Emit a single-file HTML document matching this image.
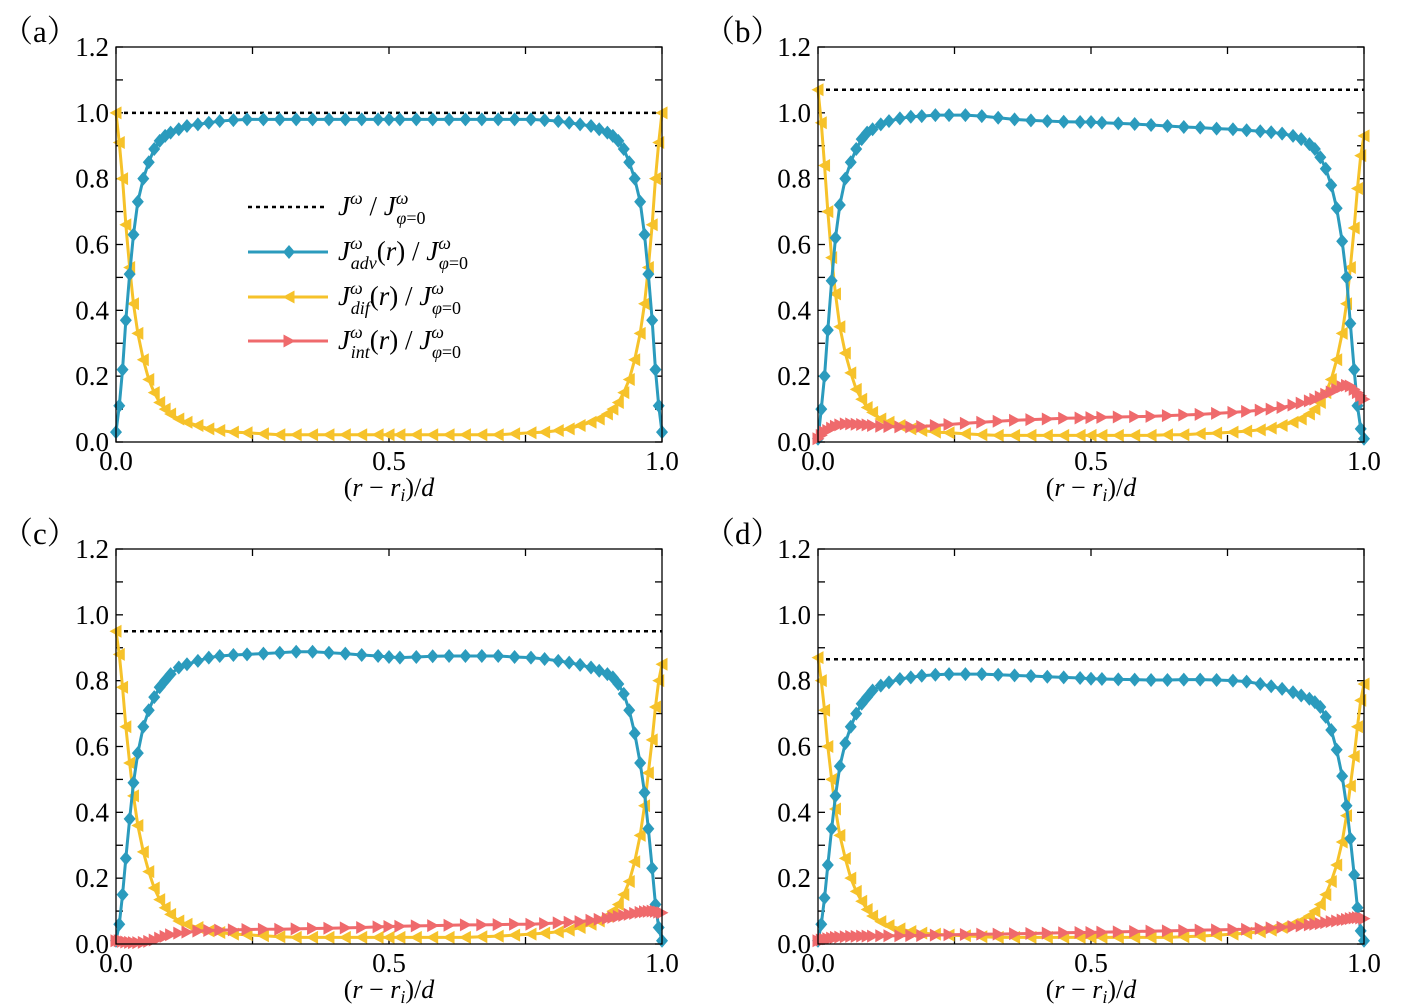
<!DOCTYPE html>
<html><head><meta charset="utf-8">
<style>
body{margin:0;background:#fff;}
svg{display:block;font-family:"Liberation Serif",serif;}
</style></head>
<body>
<svg id="chart" width="1404" height="1007" viewBox="0 0 1404 1007" xmlns="http://www.w3.org/2000/svg"></svg>
<script>
const xGrid = [0,.006,.012,.018,.025,.032,.04,.05,.06,.07,.08,.09,.1,.115,.13,.15,.17,.19,.215,.24,.27,.3,.33,.36,.39,.42,.45,.48,
 .5,
 .52,.55,.58,.61,.64,.67,.7,.73,.76,.785,.81,.83,.85,.87,.885,.9,.91,.92,.93,.94,.95,.96,.968,.975,.982,.988,.994,1];
const yTicks = [0,0.2,0.4,0.6,0.8,1.0,1.2];
const yTickLabels = ["0.0","0.2","0.4","0.6","0.8","1.0","1.2"];
const xTicks = [0,0.5,1.0];
const xTickLabels = ["0.0","0.5","1.0"];
const panelLabels = ["a","b","c","d"];
const totalA = 1.0, totalB = 1.07, totalC = 0.95, totalD = 0.865;

const advA = [.03,.11,.22,.37,.51,.63,.73,.80,.85,.89,.915,.93,.94,.95,.96,.965,.97,.975,.978,.98,.98,.98,.98,.98,.98,.98,.98,.98,
 .98,
 .98,.98,.98,.98,.98,.98,.98,.98,.98,.978,.975,.97,.965,.96,.95,.94,.93,.915,.89,.85,.80,.73,.63,.51,.37,.22,.11,.03];
const difA = [1.0,.91,.80,.66,.53,.42,.33,.25,.19,.15,.12,.10,.085,.07,.06,.05,.04,.035,.03,.028,.025,.022,.022,.022,.022,.022,.022,.022,
 .022,
 .022,.022,.022,.022,.022,.022,.022,.025,.028,.03,.035,.04,.05,.06,.07,.085,.10,.12,.15,.19,.25,.33,.42,.53,.66,.80,.91,1.0];
const intA = null;

const advB = [.01,.10,.20,.34,.49,.62,.72,.80,.85,.89,.92,.94,.95,.965,.975,.983,.988,.99,.993,.993,.993,.99,.985,.98,.977,.975,.973,.972,
 .972,
 .97,.968,.966,.963,.96,.957,.955,.952,.95,.947,.944,.941,.937,.93,.92,.905,.89,.865,.83,.78,.71,.61,.50,.36,.22,.11,.04,.01];
const difB = [1.07,.97,.84,.70,.56,.45,.35,.27,.21,.16,.13,.105,.09,.07,.06,.05,.04,.035,.03,.028,.025,.022,.02,.02,.02,.02,.02,.02,
 .02,
 .02,.02,.02,.02,.022,.022,.025,.027,.03,.033,.037,.042,.05,.06,.07,.085,.10,.12,.15,.19,.25,.33,.42,.53,.65,.77,.87,.93];
const intB = [.01,.02,.03,.035,.042,.048,.052,.055,.055,.054,.053,.052,.05,.048,.047,.046,.046,.047,.05,.053,.057,.06,.063,.066,.068,.07,.072,.073,
 .074,
 .075,.076,.077,.078,.08,.082,.084,.087,.09,.093,.097,.10,.105,.112,.118,.125,.13,.137,.145,.152,.16,.168,.172,.17,.16,.15,.14,.13];

const advC = [.01,.06,.15,.26,.38,.49,.58,.66,.71,.75,.78,.80,.82,.84,.85,.86,.87,.875,.878,.88,.882,.885,.888,.888,.885,.882,.878,.875,
 .872,
 .87,.872,.874,.875,.875,.875,.875,.872,.87,.866,.86,.855,.848,.84,.83,.82,.81,.79,.76,.71,.64,.55,.46,.35,.23,.12,.05,.01];
const difC = [.95,.88,.78,.66,.55,.45,.36,.28,.22,.17,.135,.11,.09,.07,.06,.05,.04,.035,.03,.028,.025,.022,.02,.02,.02,.02,.02,.02,
 .02,
 .02,.02,.02,.02,.02,.022,.024,.027,.03,.033,.037,.042,.05,.06,.07,.085,.10,.12,.15,.19,.25,.33,.42,.52,.62,.72,.80,.85];
const intC = [.01,.01,.008,.006,.005,.004,.004,.005,.008,.012,.018,.023,.028,.033,.036,.039,.041,.042,.043,.044,.045,.045,.046,.047,.048,.049,.05,.052,
 .053,
 .054,.055,.056,.057,.058,.058,.059,.06,.06,.062,.064,.066,.068,.072,.075,.078,.081,.084,.087,.09,.093,.096,.098,.099,.1,.099,.097,.095];

const advD = [.01,.06,.14,.24,.35,.45,.54,.61,.66,.70,.73,.75,.77,.785,.795,.805,.81,.815,.818,.82,.82,.82,.818,.816,.814,.812,.81,.808,
 .806,
 .805,.804,.803,.802,.802,.803,.803,.802,.80,.797,.79,.783,.775,.765,.755,.745,.735,.72,.69,.65,.59,.51,.42,.32,.21,.11,.04,.01];
const difD = [.87,.80,.71,.60,.50,.41,.33,.26,.20,.16,.13,.105,.085,.068,.056,.046,.038,.033,.03,.027,.025,.022,.02,.02,.02,.02,.02,.02,
 .02,
 .02,.02,.02,.02,.02,.022,.024,.027,.03,.033,.037,.042,.05,.06,.07,.085,.10,.12,.15,.19,.24,.31,.39,.48,.57,.66,.74,.79];
const intD = [.01,.012,.014,.016,.018,.02,.021,.022,.023,.023,.024,.024,.024,.025,.025,.025,.026,.026,.027,.028,.029,.03,.03,.031,.032,.033,.034,.035,
 .035,
 .036,.037,.038,.039,.04,.041,.042,.043,.044,.045,.047,.049,.051,.053,.055,.058,.06,.062,.065,.068,.07,.073,.075,.077,.079,.08,.079,.077];

const BLUE="#2b9bbd", YEL="#f6c22a", RED="#ef6a6c";
const NS="http://www.w3.org/2000/svg";
const svg=document.getElementById('chart');
function mk(tag,attrs,parent){const e=document.createElementNS(NS,tag);for(const k in attrs)e.setAttribute(k,attrs[k]);(parent||svg).appendChild(e);return e;}

const panels=[
 {x0:116,x1:662,yT:47,yB:442,total:totalA,adv:advA,dif:difA,int:intA},
 {x0:818,x1:1364,yT:47,yB:442,total:totalB,adv:advB,dif:difB,int:intB},
 {x0:116,x1:662,yT:549,yB:944,total:totalC,adv:advC,dif:difC,int:intC},
 {x0:818,x1:1364,yT:549,yB:944,total:totalD,adv:advD,dif:difD,int:intD}
];

function diamond(cx,cy,g){const e=mk('polygon',{points:`${cx},${cy-7} ${cx+6},${cy} ${cx},${cy+7} ${cx-6},${cy}`,fill:BLUE},g);
 }
function triL(cx,cy,g){const e=mk('polygon',{points:`${cx-6.5},${cy} ${cx+5.5},${cy-6.5} ${cx+5.5},${cy+6.5}`,fill:YEL},g);
 }
function triR(cx,cy,g){const e=mk('polygon',{points:`${cx+6.5},${cy} ${cx-5.5},${cy-6.5} ${cx-5.5},${cy+6.5}`,fill:RED},g);
 }

panels.forEach((p,pi)=>{
 const g=mk('g',{});
 
 
 const sx=v=>p.x0+v*(p.x1-p.x0);
 const sy=v=>p.yB-v/1.2*(p.yB-p.yT);
 for(let k=0;k<=12;k++){const y=sy(k*0.1);
  mk('line',{x1:p.x0,x2:p.x0+7,y1:y,y2:y,stroke:'#000','stroke-width':1.3},g);
  mk('line',{x1:p.x1,x2:p.x1-7,y1:y,y2:y,stroke:'#000','stroke-width':1.3},g);}
 for(let k=0;k<=4;k++){const x=sx(k*0.25);
  mk('line',{x1:x,x2:x,y1:p.yB,y2:p.yB-7,stroke:'#000','stroke-width':1.3},g);
  mk('line',{x1:x,x2:x,y1:p.yT,y2:p.yT+7,stroke:'#000','stroke-width':1.3},g);}
 yTicks.forEach((v,i)=>{const t=mk('text',{x:p.x0-7,y:sy(v)+9,'text-anchor':'end','font-size':27},g);t.textContent=yTickLabels[i];
  });
 xTicks.forEach((v,i)=>{const t=mk('text',{x:sx(v),y:p.yB+28,'text-anchor':'middle','font-size':27},g);t.textContent=xTickLabels[i];
  });
 const xt=mk('text',{x:(p.x0+p.x1)/2,y:p.yB+54,'text-anchor':'middle','font-size':26},g);
 xt.innerHTML='(<tspan font-style="italic">r</tspan> − <tspan font-style="italic">r</tspan><tspan font-style="italic" font-size="18" dy="5">i</tspan><tspan dy="-5">)/</tspan><tspan font-style="italic">d</tspan>';
 
 const pl=mk('text',{x:p.x0-114,y:p.yT-5,'font-size':31,'font-family':'"Liberation Serif","Noto Serif CJK SC",serif'},g);
 pl.textContent='（'+panelLabels[pi]+'）';
 
 const tl=mk('line',{x1:sx(0),x2:sx(1),y1:sy(p.total),y2:sy(p.total),stroke:'#000','stroke-width':2.5,'stroke-dasharray':'4 4'},g);
 
 const drawSeries=(arr,color,name,mfn)=>{
  if(!arr)return;
  const sg=mk('g',{},g);
  
  const pts=arr.map((v,i)=>sx(xGrid[i])+','+sy(v)).join(' ');
  const pl2=mk('polyline',{points:pts,fill:'none',stroke:color,'stroke-width':3},sg);
  
  arr.forEach((v,i)=>mfn(sx(xGrid[i]),sy(v),sg));
 };
 drawSeries(p.dif,YEL,'dif',triL);
 drawSeries(p.adv,BLUE,'adv',diamond);
 drawSeries(p.int,RED,'int',triR);
 const fr=mk('rect',{x:p.x0,y:p.yT,width:p.x1-p.x0,height:p.yB-p.yT,fill:'none',stroke:'#000','stroke-width':1.3},g);
 
});

const lg=mk('g',{});


const rows=[
 {y:207,type:'dash',color:'#000',label:'<tspan font-style="italic">J</tspan><tspan font-style="italic" font-size="18" dy="-11">ω</tspan><tspan dy="11"> / </tspan><tspan font-style="italic">J</tspan><tspan font-style="italic" font-size="18" dy="-11">ω</tspan><tspan font-style="italic" font-size="18" dx="-12" dy="20">φ</tspan><tspan font-size="18">=0</tspan>'},
 {y:252,type:'adv',color:BLUE,sub:'adv'},
 {y:297,type:'dif',color:YEL,sub:'dif'},
 {y:341,type:'int',color:RED,sub:'int'}
];
rows.forEach(r=>{
 const eg=mk('g',{},lg);
 
 
 if(r.type==='dash') mk('line',{x1:248,x2:328,y1:r.y,y2:r.y,stroke:'#000','stroke-width':2.5,'stroke-dasharray':'4 4'},eg);
 else {mk('line',{x1:248,x2:328,y1:r.y,y2:r.y,stroke:r.color,'stroke-width':3},eg);
  if(r.type==='adv')diamond(289,r.y,eg); else if(r.type==='dif')triL(289,r.y,eg); else triR(289,r.y,eg);}
 const t=mk('text',{x:338,y:r.y+8,'font-size':27},eg);
 t.innerHTML=r.label||('<tspan font-style="italic">J</tspan><tspan font-style="italic" font-size="18" dy="-11">ω</tspan><tspan font-style="italic" font-size="18" dx="-12" dy="20">'+r.sub+'</tspan><tspan dy="-9">(</tspan><tspan font-style="italic">r</tspan>) / <tspan font-style="italic">J</tspan><tspan font-style="italic" font-size="18" dy="-11">ω</tspan><tspan font-style="italic" font-size="18" dx="-12" dy="20">φ</tspan><tspan font-size="18">=0</tspan>');
 
});
</script>
</body></html>
